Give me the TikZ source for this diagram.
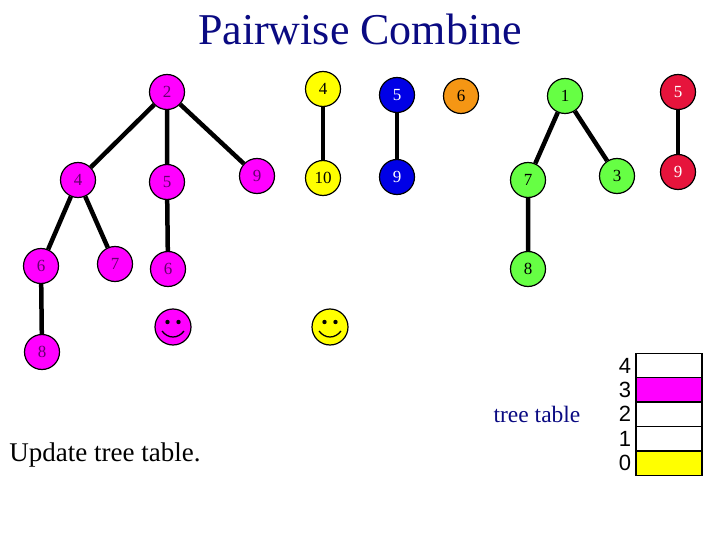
\documentclass[tikz,border=0pt]{standalone}
\usepackage{fontspec}
\setmainfont{Liberation Serif}
\newfontfamily\sansf{Liberation Sans}
\definecolor{mag}{RGB}{255,0,255}
\definecolor{yel}{RGB}{255,255,0}
\definecolor{blu}{RGB}{0,0,230}
\definecolor{ora}{RGB}{245,150,20}
\definecolor{grn}{RGB}{102,255,68}
\definecolor{rd}{RGB}{230,20,60}
\definecolor{navy}{RGB}{10,10,130}
\definecolor{txtm}{RGB}{100,0,110}
\begin{document}
\begin{tikzpicture}[x=1pt,y=-1pt,
  nd/.style={circle,draw=black,line width=1.2pt,minimum size=35pt,inner sep=0pt,font=\fontsize{17}{17}\selectfont},
  mn/.style={nd,fill=mag,text=txtm},
  yn/.style={nd,fill=yel,text=black},
  bn/.style={nd,fill=blu,text=white},
  on/.style={nd,fill=ora,text=black},
  gn/.style={nd,fill=grn,text=black},
  rn/.style={nd,fill=rd,text=white},
  ed/.style={line width=4.5pt},
  cell/.style={draw=black,line width=1.5pt,minimum width=66pt,minimum height=24.4pt,inner sep=0pt},
  lab/.style={font=\sansf\fontsize{22}{22}\selectfont}]
\useasboundingbox (0,0) rectangle (720,540);
\node[font=\fontsize{44}{44}\selectfont,text=navy] (title) at (360,29) {Pairwise Combine};
% magenta tree
\node[mn] (m2) at (167,92) {2};
\node[mn] (m4) at (78,180) {4};
\node[mn] (m5) at (167,182) {5};
\node[mn] (m9) at (257,176) {9};
\node[mn] (m6) at (41,266) {6};
\node[mn] (m7) at (115,264) {7};
\node[mn] (m6b) at (168,269) {6};
\node[mn] (m8) at (42,352) {8};
\draw[ed] (m2)--(m4) (m2)--(m5) (m2)--(m9) (m4)--(m6) (m4)--(m7) (m5)--(m6b) (m6)--(m8);
% yellow
\node[yn] (y4) at (323,89) {4};
\node[yn] (y10) at (323,178) {10};
\draw[ed] (y4)--(y10);
% blue
\node[bn] (b5) at (397,95) {5};
\node[bn] (b9) at (397,177) {9};
\draw[ed] (b5)--(b9);
\node[on] (o6) at (461,96) {6};
% green
\node[gn] (g1) at (565,96) {1};
\node[gn] (g7) at (528,180) {7};
\node[gn] (g3) at (617,176) {3};
\node[gn] (g8) at (528,269) {8};
\draw[ed] (g1)--(g7) (g1)--(g3) (g7)--(g8);
% red
\node[rn] (r5) at (678,92) {5};
\node[rn] (r9) at (678,172) {9};
\draw[ed] (r5)--(r9);
% smileys
\foreach \n/\cx/\c in {sm/173/mag,sy/330/yel}{
  \node[circle,draw=black,line width=1.2pt,fill=\c,minimum size=36pt,inner sep=0pt] (\n) at (\cx,327) {};
  \fill (\cx-5.5,322) circle (2.2pt);
  \fill (\cx+5.5,322) circle (2.2pt);
  \draw[line width=1.3pt] (\cx-11,331) .. controls (\cx-5,339) and (\cx+5,339) .. (\cx+11,331);
}
% table
\node[cell,fill=white] (t4) at (669,365.5) {};
\node[cell,fill=mag] (t3) at (669,389.9) {};
\node[cell,fill=white] (t2) at (669,414.3) {};
\node[cell,fill=white] (t1) at (669,438.7) {};
\node[cell,fill=yel] (t0) at (669,463.1) {};
\foreach \i in {0,...,4}{\node[lab,anchor=east,inner sep=0pt] (l\i) at ([xshift=-4pt]t\i.west) {\i};}
\node[font=\fontsize{23.5}{23.5}\selectfont,text=navy] (tt) at (537,414) {tree table};
\node[font=\fontsize{27}{27}\selectfont] (up) at (105,455) {Update tree table.};
\end{tikzpicture}
\end{document}
